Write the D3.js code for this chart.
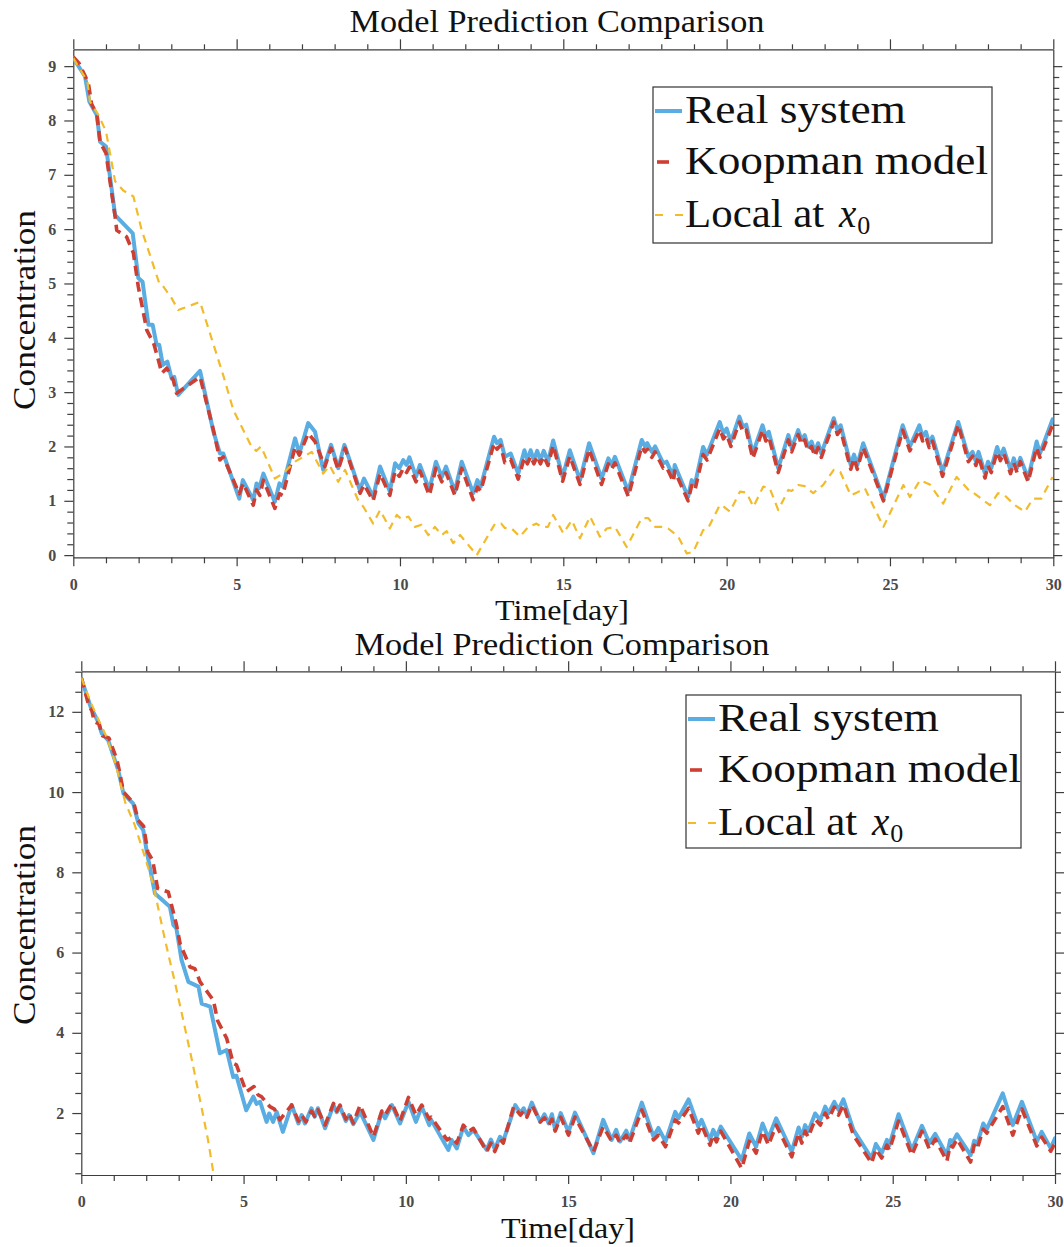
<!DOCTYPE html>
<html>
<head>
<meta charset="utf-8">
<script src="https://cdn.jsdelivr.net/npm/d3@7"></script>
<style>
  html, body { margin: 0; padding: 0; background: #fff; }
  svg { display: block; }
</style>
</head>
<body>
<div id="chart"></div>
<script>
// ---------------- DATA ----------------
const chartTitle = "Model Prediction Comparison";
const xLabelText = "Time[day]";
const yLabelText = "Concentration";
const seriesNames = ["Real system", "Koopman model", "Local at "];

const xTickValues = [0, 5, 10, 15, 20, 25, 30];
const topYTickValues = [0, 1, 2, 3, 4, 5, 6, 7, 8, 9];
const botYTickValues = [2, 4, 6, 8, 10, 12];

// top panel: [time (day), concentration]
const topReal = [[0,9.15],[0.36,8.81],[0.49,8.35],[0.72,8.10],[0.82,7.61],[1.0,7.52],[1.28,6.26],[1.82,5.92],[1.99,5.10],[2.12,5.03],[2.30,4.24],[2.43,4.24],[2.55,3.87],[2.63,3.87],[2.74,3.50],[2.88,3.56],[3.01,3.25],[3.09,3.28],[3.21,2.95],[3.88,3.39],[4.29,2.27],[4.49,1.87],[4.59,1.87],[5.08,1.04],[5.19,1.38],[5.51,1.01],[5.61,1.32],[5.69,1.23],[5.82,1.50],[6.17,0.98],[6.31,1.32],[6.41,1.26],[6.79,2.15],[6.92,1.87],[7.19,2.43],[7.40,2.27],[7.65,1.57],[7.89,2.03],[8.11,1.60],[8.30,2.03],[8.77,1.20],[8.90,1.41],[9.18,1.07],[9.39,1.63],[9.69,1.17],[9.85,1.69],[9.98,1.60],[10.10,1.75],[10.20,1.66],[10.29,1.80],[10.49,1.44],[10.61,1.66],[10.90,1.20],[11.10,1.72],[11.28,1.44],[11.41,1.63],[11.68,1.17],[11.89,1.72],[12.24,1.14],[12.37,1.38],[12.47,1.26],[12.88,2.18],[12.97,2.06],[13.08,2.12],[13.21,1.81],[13.39,1.87],[13.62,1.50],[13.81,1.93],[13.90,1.75],[14.00,1.93],[14.10,1.75],[14.20,1.92],[14.30,1.75],[14.40,1.92],[14.53,1.72],[14.69,2.11],[14.98,1.44],[15.20,1.93],[15.51,1.38],[15.79,2.06],[16.17,1.41],[16.38,1.78],[16.48,1.66],[16.58,1.81],[16.99,1.17],[17.40,2.12],[17.50,2.00],[17.57,2.06],[17.71,1.90],[17.81,2.00],[18.06,1.69],[18.16,1.72],[18.37,1.44],[18.41,1.66],[18.82,1.07],[18.93,1.38],[19.03,1.30],[19.28,1.99],[19.40,1.85],[19.79,2.45],[19.90,2.24],[20.00,2.33],[20.13,2.09],[20.39,2.55],[20.50,2.36],[20.60,2.40],[20.80,1.87],[21.10,2.39],[21.20,2.18],[21.29,2.27],[21.58,1.60],[21.89,2.21],[21.99,1.97],[22.19,2.30],[22.29,2.12],[22.39,2.21],[22.49,2.00],[22.60,2.09],[22.70,1.90],[22.80,2.06],[22.90,1.87],[23.28,2.52],[23.39,2.30],[23.49,2.39],[23.80,1.66],[23.90,1.85],[24.00,1.66],[24.18,2.06],[24.80,1.04],[25.39,2.39],[25.61,2.00],[25.90,2.39],[26.00,2.18],[26.10,2.27],[26.20,2.06],[26.30,2.18],[26.61,1.53],[27.09,2.45],[27.40,1.81],[27.53,1.90],[27.63,1.72],[27.71,1.90],[27.91,1.50],[28.00,1.72],[28.10,1.60],[28.28,1.99],[28.38,1.81],[28.48,1.96],[28.69,1.57],[28.79,1.78],[28.89,1.60],[28.99,1.79],[29.23,1.41],[29.49,2.09],[29.59,1.87],[29.98,2.50]];

const topKoopman = [[0,9.17],[0.18,9.05],[0.46,8.69],[0.56,8.30],[0.72,8.12],[0.82,7.60],[1.0,7.40],[1.28,6.23],[1.33,5.98],[1.63,5.86],[1.84,5.56],[1.99,4.94],[2.25,4.14],[2.46,3.90],[2.60,3.60],[2.71,3.35],[2.86,3.44],[3.06,3.22],[3.16,2.98],[3.88,3.28],[4.29,2.30],[4.49,1.75],[4.59,1.81],[5.08,1.13],[5.20,1.32],[5.51,0.92],[5.61,1.20],[5.71,1.10],[5.82,1.38],[6.17,0.86],[6.31,1.13],[6.41,1.10],[6.79,1.99],[6.92,1.84],[7.19,2.24],[7.40,2.09],[7.70,1.63],[7.89,1.97],[8.11,1.57],[8.32,1.97],[8.78,1.14],[8.90,1.30],[9.18,1.00],[9.39,1.50],[9.69,1.10],[9.85,1.55],[9.98,1.45],[10.10,1.60],[10.20,1.52],[10.29,1.62],[10.49,1.35],[10.61,1.55],[10.90,1.10],[11.10,1.60],[11.28,1.35],[11.41,1.52],[11.68,1.10],[11.89,1.60],[12.24,1.02],[12.37,1.25],[12.47,1.18],[12.88,2.06],[12.97,1.95],[13.08,2.02],[13.21,1.70],[13.39,1.76],[13.62,1.40],[13.81,1.80],[13.90,1.68],[14.00,1.82],[14.10,1.68],[14.20,1.82],[14.30,1.68],[14.40,1.82],[14.53,1.65],[14.69,2.02],[14.98,1.36],[15.20,1.82],[15.51,1.30],[15.79,1.95],[16.17,1.30],[16.38,1.68],[16.48,1.58],[16.58,1.70],[16.99,1.08],[17.40,2.00],[17.50,1.90],[17.57,1.95],[17.71,1.80],[17.81,1.90],[18.06,1.60],[18.16,1.62],[18.37,1.35],[18.41,1.55],[18.82,1.00],[18.93,1.28],[19.03,1.20],[19.28,1.85],[19.40,1.75],[19.79,2.33],[19.90,2.14],[20.00,2.22],[20.13,2.00],[20.39,2.45],[20.50,2.26],[20.60,2.30],[20.80,1.78],[21.10,2.30],[21.20,2.10],[21.29,2.18],[21.58,1.52],[21.89,2.12],[21.99,1.90],[22.19,2.22],[22.29,2.04],[22.39,2.12],[22.49,1.92],[22.60,2.00],[22.70,1.82],[22.80,1.98],[22.90,1.80],[23.28,2.45],[23.39,2.22],[23.49,2.30],[23.80,1.58],[23.90,1.78],[24.00,1.58],[24.18,1.98],[24.80,1.00],[25.39,2.30],[25.61,1.92],[25.90,2.30],[26.00,2.10],[26.10,2.18],[26.20,1.98],[26.30,2.10],[26.61,1.45],[27.09,2.40],[27.40,1.72],[27.53,1.82],[27.63,1.65],[27.71,1.82],[27.91,1.42],[28.00,1.65],[28.10,1.52],[28.28,1.90],[28.38,1.74],[28.48,1.88],[28.69,1.50],[28.79,1.70],[28.89,1.52],[28.99,1.72],[29.23,1.35],[29.49,1.98],[29.59,1.80],[29.98,2.40]];

const topLocal = [[0,9.15],[0.43,8.72],[0.51,8.35],[0.77,8.10],[1.0,7.80],[1.28,6.88],[1.53,6.71],[1.84,6.60],[2.09,5.99],[2.65,4.97],[2.76,4.94],[3.01,4.73],[3.21,4.51],[3.88,4.66],[4.59,3.31],[4.90,2.67],[5.46,1.99],[5.60,1.92],[5.75,2.00],[6.17,1.41],[6.41,1.50],[6.79,1.72],[7.30,1.90],[7.65,1.50],[7.85,1.65],[8.11,1.35],[8.32,1.57],[8.72,1.01],[8.88,0.89],[9.18,0.58],[9.39,0.83],[9.69,0.49],[9.90,0.74],[10.05,0.66],[10.26,0.71],[10.46,0.52],[10.66,0.56],[10.87,0.37],[11.07,0.52],[11.28,0.37],[11.43,0.44],[11.63,0.22],[11.84,0.37],[12.35,0.00],[12.91,0.58],[13.10,0.58],[13.21,0.50],[13.42,0.49],[13.67,0.34],[13.93,0.52],[14.18,0.58],[14.33,0.52],[14.53,0.52],[14.69,0.74],[15.00,0.40],[15.26,0.64],[15.51,0.31],[15.82,0.71],[16.12,0.34],[16.33,0.49],[16.58,0.52],[16.94,0.15],[17.40,0.68],[17.60,0.68],[17.81,0.52],[18.01,0.52],[18.21,0.49],[18.52,0.34],[18.78,0.03],[18.98,0.06],[19.28,0.46],[19.43,0.49],[19.79,0.92],[19.85,0.92],[20.10,0.80],[20.41,1.17],[20.61,1.15],[20.82,0.89],[21.12,1.26],[21.32,1.23],[21.58,0.83],[21.89,1.20],[21.99,1.18],[22.19,1.29],[22.39,1.27],[22.65,1.14],[22.95,1.29],[23.28,1.57],[23.48,1.53],[23.80,1.10],[23.98,1.15],[24.23,1.23],[24.80,0.52],[25.41,1.29],[25.61,1.07],[25.92,1.38],[26.22,1.30],[26.63,0.95],[27.04,1.44],[27.45,1.17],[27.55,1.15],[28.06,0.92],[28.31,1.14],[28.51,1.10],[28.82,0.92],[29.13,0.80],[29.38,1.04],[29.63,1.04],[29.98,1.44]];

// bottom panel
const botReal = [[0,12.83],[0.29,12.12],[0.52,11.75],[0.63,11.46],[0.83,11.29],[1.14,10.54],[1.30,9.96],[1.60,9.71],[1.76,9.22],[1.91,9.05],[2.01,8.55],[2.27,7.47],[2.73,7.14],[2.84,6.68],[2.93,6.60],[3.09,5.81],[3.30,5.27],[3.61,5.15],[3.71,4.73],[3.97,4.65],[4.27,3.49],[4.48,3.57],[4.68,2.90],[4.78,2.93],[5.08,2.07],[5.30,2.41],[5.40,2.23],[5.51,2.28],[5.71,1.78],[5.79,1.99],[5.91,1.78],[6.02,2.03],[6.21,1.53],[6.48,2.20],[6.69,1.74],[6.79,1.95],[6.89,1.74],[7.09,2.12],[7.19,1.91],[7.29,2.12],[7.51,1.62],[7.77,2.20],[7.87,2.02],[7.97,2.16],[8.15,1.80],[8.25,1.95],[8.38,1.72],[8.59,2.03],[9.00,1.33],[9.26,2.03],[9.36,1.87],[9.57,2.20],[9.82,1.74],[10.08,2.28],[10.31,1.78],[10.49,2.16],[10.72,1.70],[10.78,1.83],[11.31,1.08],[11.41,1.33],[11.57,1.12],[11.77,1.66],[11.93,1.45],[12.08,1.58],[12.49,1.08],[12.62,1.34],[12.74,1.10],[12.90,1.41],[13.00,1.30],[13.37,2.20],[13.53,2.00],[13.63,2.12],[13.73,1.94],[13.88,2.26],[14.14,1.78],[14.27,1.97],[14.40,1.74],[14.50,1.97],[14.60,1.58],[14.77,2.00],[15.01,1.53],[15.21,2.01],[15.78,1.00],[16.08,1.83],[16.34,1.33],[16.48,1.58],[16.60,1.29],[16.79,1.56],[16.89,1.33],[17.27,2.26],[17.63,1.41],[17.78,1.63],[18.00,1.29],[18.30,2.03],[18.40,1.87],[18.71,2.34],[19.01,1.66],[19.11,1.83],[19.37,1.33],[19.47,1.58],[19.57,1.40],[19.70,1.66],[20.35,0.83],[20.58,1.49],[20.79,1.16],[20.99,1.74],[21.17,1.37],[21.41,1.87],[21.89,1.04],[22.10,1.64],[22.20,1.41],[22.30,1.70],[22.40,1.55],[22.61,1.99],[22.77,1.83],[22.92,2.16],[23.02,1.99],[23.20,2.28],[23.33,2.08],[23.48,2.34],[23.79,1.58],[24.35,0.87],[24.48,1.23],[24.66,1.00],[24.82,1.33],[24.90,1.20],[25.18,1.97],[25.59,1.08],[25.90,1.68],[26.13,1.25],[26.31,1.48],[26.67,0.95],[26.77,1.33],[26.85,1.28],[26.98,1.47],[27.40,0.95],[27.51,1.31],[27.60,1.22],[27.79,1.74],[27.90,1.60],[28.39,2.49],[28.70,1.70],[28.98,2.28],[29.44,1.29],[29.59,1.53],[29.87,1.12],[30.0,1.37]];

const botKoopman = [[0,12.85],[0.25,12.10],[0.32,12.05],[0.40,11.75],[0.55,11.70],[0.65,11.40],[0.85,11.35],[1.10,10.80],[1.18,10.50],[1.30,10.00],[1.62,9.72],[1.75,9.30],[1.92,9.15],[2.05,8.50],[2.20,8.30],[2.35,7.60],[2.68,7.51],[2.93,6.70],[3.05,6.20],[3.35,5.64],[3.50,5.60],[3.66,5.27],[3.90,5.00],[4.07,4.81],[4.20,4.30],[4.48,3.86],[4.68,3.24],[4.78,3.20],[5.08,2.53],[5.32,2.66],[5.45,2.45],[5.55,2.41],[5.81,2.16],[5.95,2.10],[6.12,1.83],[6.48,2.20],[6.69,1.80],[6.79,1.95],[6.92,1.78],[7.09,2.05],[7.19,1.92],[7.29,2.08],[7.51,1.70],[7.77,2.24],[7.87,2.05],[7.97,2.20],[8.15,1.85],[8.25,2.00],[8.38,1.75],[8.59,2.20],[9.00,1.41],[9.26,2.05],[9.36,1.95],[9.57,2.24],[9.82,1.80],[10.08,2.39],[10.31,1.95],[10.49,2.20],[10.72,1.85],[10.78,1.90],[11.27,1.33],[11.41,1.40],[11.57,1.25],[11.77,1.70],[11.93,1.54],[12.08,1.62],[12.49,1.04],[12.62,1.25],[12.74,1.04],[12.90,1.35],[13.00,1.25],[13.32,2.16],[13.53,1.95],[13.63,2.05],[13.73,1.90],[13.88,2.20],[14.14,1.78],[14.27,1.88],[14.40,1.70],[14.50,1.85],[14.60,1.55],[14.77,1.90],[15.01,1.45],[15.21,1.90],[15.78,1.04],[16.08,1.66],[16.34,1.30],[16.48,1.45],[16.60,1.25],[16.79,1.45],[16.89,1.25],[17.27,2.08],[17.63,1.33],[17.78,1.45],[18.00,1.16],[18.30,1.83],[18.40,1.75],[18.71,2.12],[19.01,1.50],[19.11,1.70],[19.37,1.20],[19.47,1.45],[19.57,1.28],[19.70,1.55],[20.35,0.62],[20.58,1.30],[20.79,1.00],[20.99,1.55],[21.17,1.20],[21.41,1.70],[21.89,0.91],[22.10,1.50],[22.20,1.25],[22.30,1.55],[22.40,1.40],[22.61,1.85],[22.77,1.70],[22.92,2.00],[23.02,1.85],[23.20,2.15],[23.33,1.95],[23.48,2.21],[23.79,1.45],[24.35,0.75],[24.48,1.10],[24.66,0.88],[24.82,1.20],[24.90,1.08],[25.18,1.80],[25.59,0.95],[25.90,1.55],[26.13,1.10],[26.31,1.35],[26.67,0.80],[26.77,1.20],[26.85,1.15],[26.98,1.35],[27.40,0.78],[27.51,1.20],[27.60,1.10],[27.79,1.60],[27.90,1.50],[28.39,2.16],[28.70,1.45],[28.98,2.10],[29.44,1.18],[29.59,1.40],[29.87,1.05],[30.0,1.25]];

const botLocal = [[0,12.85],[0.31,12.20],[0.56,11.75],[0.78,11.37],[1.04,10.75],[1.35,9.75],[1.65,9.17],[1.96,8.38],[2.22,7.68],[2.58,6.31],[2.90,5.20],[3.14,4.32],[3.40,3.35],[3.66,2.32],[3.90,1.35],[4.08,0.46]];

// ---------------- STYLE ----------------
const W = 1064, H = 1247;
const serif = "'Liberation Serif', 'DejaVu Serif', serif";
const colReal = "#59ade2", colKoop = "#cd3f33", colLocal = "#f2bb2a";
const axisCol = "#3d3d3d", tickTextCol = "#4a4a4a";

const svg = d3.select("#chart").append("svg").attr("width", W).attr("height", H);

function panel(cfg) {
  const x = d3.scaleLinear().domain([0, 30]).range([cfg.left, cfg.right]);
  const y = d3.scaleLinear().domain(cfg.yDomain).range([cfg.bottom, cfg.top]);
  const g = svg.append("g");
  const clipId = "clip" + cfg.id;
  g.append("clipPath").attr("id", clipId).append("rect")
    .attr("x", cfg.left).attr("y", cfg.top)
    .attr("width", cfg.right - cfg.left).attr("height", cfg.bottom - cfg.top);

  const minorX = d3.range(0, 31, 1).filter(v => v % 5 !== 0);
  const minorY = cfg.minorY;

  function styleAxis(sel) {
    sel.select(".domain").attr("stroke", axisCol).attr("stroke-width", 1.2);
    sel.selectAll(".tick line").attr("stroke", axisCol).attr("stroke-width", 1.2);
    sel.selectAll(".tick text").attr("font-family", serif).attr("font-weight", "bold")
      .attr("font-size", 16).attr("fill", tickTextCol);
  }
  function minorStyle(s) {
    s.select(".domain").remove();
    s.selectAll("line").attr("stroke", axisCol).attr("stroke-width", 1.2);
  }
  // bottom
  const xb = g.append("g").attr("transform", `translate(0,${cfg.bottom})`)
    .call(d3.axisBottom(x).tickValues(xTickValues).tickSize(9).tickSizeOuter(0).tickPadding(12).tickFormat(d3.format("d")));
  styleAxis(xb);
  g.append("g").attr("transform", `translate(0,${cfg.bottom})`)
    .call(d3.axisBottom(x).tickValues(minorX).tickSize(6).tickSizeOuter(0).tickFormat("")).call(minorStyle);
  // top
  const xt = g.append("g").attr("transform", `translate(0,${cfg.top})`)
    .call(d3.axisTop(x).tickValues(xTickValues).tickSize(10).tickSizeOuter(0).tickFormat(""));
  styleAxis(xt);
  g.append("g").attr("transform", `translate(0,${cfg.top})`)
    .call(d3.axisTop(x).tickValues(minorX).tickSize(5).tickSizeOuter(0).tickFormat("")).call(minorStyle);
  // left
  const yl = g.append("g").attr("transform", `translate(${cfg.left},0)`)
    .call(d3.axisLeft(y).tickValues(cfg.yTicks).tickSize(9).tickSizeOuter(0).tickPadding(8).tickFormat(d3.format("d")));
  styleAxis(yl);
  g.append("g").attr("transform", `translate(${cfg.left},0)`)
    .call(d3.axisLeft(y).tickValues(minorY).tickSize(6).tickSizeOuter(0).tickFormat("")).call(minorStyle);
  // right
  const yr = g.append("g").attr("transform", `translate(${cfg.right},0)`)
    .call(d3.axisRight(y).tickValues(cfg.yTicks).tickSize(9).tickSizeOuter(0).tickFormat(""));
  styleAxis(yr);
  g.append("g").attr("transform", `translate(${cfg.right},0)`)
    .call(d3.axisRight(y).tickValues(minorY).tickSize(6).tickSizeOuter(0).tickFormat("")).call(minorStyle);

  const line = d3.line().x(d => x(d[0])).y(d => y(d[1]));
  const lines = g.append("g").attr("clip-path", `url(#${clipId})`);
  lines.append("path").datum(cfg.real).attr("d", line).attr("fill", "none")
    .attr("stroke", colReal).attr("stroke-width", 4).attr("stroke-linejoin", "round").attr("stroke-linecap", "round");
  lines.append("path").datum(cfg.koop).attr("d", line).attr("fill", "none")
    .attr("stroke", colKoop).attr("stroke-width", 3.6).attr("stroke-dasharray", "10,6").attr("stroke-linejoin", "round");
  lines.append("path").datum(cfg.local).attr("d", line).attr("fill", "none")
    .attr("stroke", colLocal).attr("stroke-width", 2.2).attr("stroke-dasharray", "8,6").attr("stroke-linejoin", "round");

  // title & labels
  svg.append("text").attr("x", cfg.titleX).attr("y", cfg.titleY).attr("text-anchor", "middle")
    .attr("font-family", serif).attr("font-size", 31).attr("fill", "#111")
    .attr("textLength", 415).attr("lengthAdjust", "spacingAndGlyphs").text(chartTitle);
  svg.append("text").attr("x", cfg.xlabX).attr("y", cfg.xlabY).attr("text-anchor", "middle")
    .attr("font-family", serif).attr("font-size", 30).attr("fill", "#111")
    .attr("textLength", 134).attr("lengthAdjust", "spacingAndGlyphs").text(xLabelText);
  svg.append("text").attr("transform", `translate(${cfg.ylabX},${cfg.ylabY}) rotate(-90)`).attr("text-anchor", "middle")
    .attr("font-family", serif).attr("font-size", 32).attr("fill", "#111")
    .attr("textLength", 200).attr("lengthAdjust", "spacingAndGlyphs").text(yLabelText);

  // legend
  const L = cfg.legend;
  const lg = svg.append("g").attr("transform", `translate(${L.x},${L.y})`);
  lg.append("rect").attr("x", 0).attr("y", 0).attr("width", L.w).attr("height", L.h)
    .attr("fill", "#fff").attr("stroke", "#333").attr("stroke-width", 1.2);
  const rows = [
    {name: seriesNames[0], col: colReal, w: 4, dash: null, x1: 2, x2: 29, len: 221},
    {name: seriesNames[1], col: colKoop, w: 3.6, dash: null, x1: 4, x2: 16, len: 303},
    {name: seriesNames[2], col: colLocal, w: 2.2, dash: "8,12", x1: 2, x2: 32, len: 150}
  ];
  const rowY = [24, 75, 128];
  rows.forEach((r, i) => {
    lg.append("line").attr("x1", r.x1).attr("x2", r.x2).attr("y1", rowY[i]).attr("y2", rowY[i])
      .attr("stroke", r.col).attr("stroke-width", r.w).attr("stroke-dasharray", r.dash);
    const t = lg.append("text").attr("x", 32).attr("y", rowY[i] + 12)
      .attr("font-family", serif).attr("font-size", 39).attr("fill", "#111");
    t.append("tspan").attr("textLength", r.len).attr("lengthAdjust", "spacingAndGlyphs").text(r.name);
    if (i === 2) {
      t.append("tspan").attr("font-style", "italic").attr("dx", 4).text("x");
      t.append("tspan").attr("font-size", 26).attr("dy", 7).attr("dx", 1).text("0");
    }
  });
}

panel({
  id: "top", left: 73.3, right: 1053.3, top: 49.3, bottom: 557.3,
  yDomain: [-0.04, 9.31], yTicks: topYTickValues,
  minorY: d3.range(0, 46).map(i => +(i * 0.2).toFixed(1)).filter(v => Math.abs(v - Math.round(v)) > 1e-6 && v < 9.31),
  real: topReal, koop: topKoopman, local: topLocal,
  titleX: 557, titleY: 32, xlabX: 562, xlabY: 620, ylabX: 35, ylabY: 310,
  legend: {x: 653, y: 87, w: 339, h: 156}
});
panel({
  id: "bot", left: 81.3, right: 1055, top: 671.3, bottom: 1175,
  yDomain: [0.456, 13.01], yTicks: botYTickValues,
  minorY: d3.range(1, 27).map(i => i * 0.5).filter(v => v % 2 !== 0 && v > 0.456 && v < 13.01),
  real: botReal, koop: botKoopman, local: botLocal,
  titleX: 562, titleY: 655, xlabX: 568, xlabY: 1238, ylabX: 35, ylabY: 925,
  legend: {x: 686, y: 695, w: 335, h: 153}
});
</script>
</body>
</html>
